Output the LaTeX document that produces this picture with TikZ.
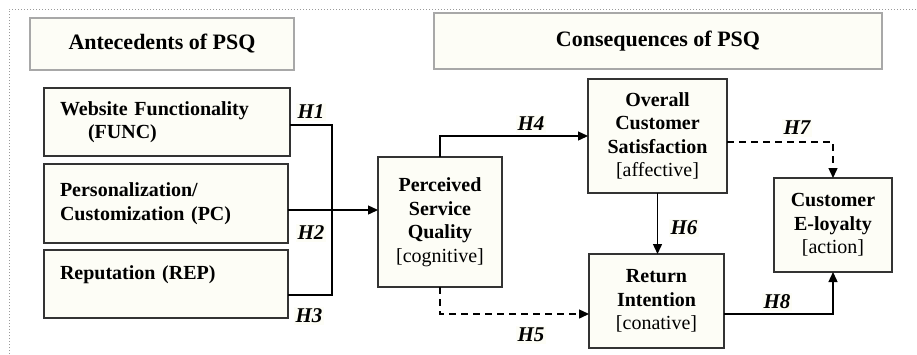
\documentclass[tikz,border=0pt]{standalone}
\usepackage{fontspec}
\setmainfont{Liberation Serif}
\usetikzlibrary{arrows.meta}
\definecolor{boxfill}{HTML}{FDFDF6}
\definecolor{boxline}{HTML}{333333}
\definecolor{headline}{HTML}{A8A8A8}
\definecolor{framec}{HTML}{9A9A9A}
\begin{document}
\begin{tikzpicture}[x=1pt,y=-1pt,
  every node/.style={inner sep=0pt, outer sep=0pt},
  header/.style={draw=headline, line width=1.5pt, fill=boxfill, font=\fontsize{22}{26}\selectfont\bfseries},
  concept/.style={draw=boxline, line width=1.5pt, fill=boxfill, font=\fontsize{20}{23.5}\selectfont\bfseries, align=center},
  antec/.style={concept, align=left, inner xsep=16pt},
  hlabel/.style={font=\fontsize{21}{24}\selectfont\bfseries\itshape, fill=boxfill, inner sep=2pt},
  link/.style={line width=1.4pt, draw=black},
  arr/.style={link, -{Triangle[length=10pt,width=9pt]}},
  darr/.style={arr, dash pattern=on 7pt off 5pt},
]
\useasboundingbox (0,0) rectangle (917,354);
\draw[framec, dotted, line width=1pt] (9,354) -- (9,9) -- (917,9);

\node[header, minimum width=264pt, minimum height=52pt] (ante) at (162,44) {Antecedents of PSQ};
\node[header, minimum width=448pt, minimum height=56pt] (cons) at (658,41) {Consequences of PSQ};

\node[antec, text width=214pt, minimum height=68pt] (func) at (167,122) {Website Functionality\\\hspace*{28pt}(FUNC)};
\node[antec, text width=212pt, minimum height=79pt] (pc) at (166,203.5) {Personalization/\\Customization (PC)};
\node[antec, text width=212pt, minimum height=68pt] (rep) at (166,284) {Reputation (REP)\\\mbox{}};

\node[concept, minimum width=124pt, minimum height=130pt] (psq) at (440,222) {Perceived\\Service\\Quality\\{\mdseries[cognitive]}};
\node[concept, minimum width=139pt, minimum height=114pt] (sat) at (657.5,136) {Overall\\Customer\\Satisfaction\\{\mdseries[affective]}};
\node[concept, minimum width=118pt, minimum height=94pt] (loy) at (833,225) {Customer\\E-loyalty\\{\mdseries[action]}};
\node[concept, minimum width=135pt, minimum height=94pt] (ret) at (656.5,301) {Return\\Intention\\{\mdseries[conative]}};

\node[hlabel] (l1) at (311,112) {H1};
\node[hlabel] (l2) at (311,233) {H2};
\node[hlabel] (l3) at (309,316) {H3};
\node[hlabel] (l4) at (531,124) {H4};
\node[hlabel] (l5) at (531,335) {H5};
\node[hlabel] (l6) at (684,228) {H6};
\node[hlabel] (l7) at (797,128) {H7};
\node[hlabel] (l8) at (777,302) {H8};

\coordinate (bt) at (332,125);
\coordinate (bb) at (332,295);
\coordinate (h2y) at (0,210);
\coordinate (h7y) at (0,142);
\coordinate (low) at (0,314);

\draw[link] (func.east |- bt) -- (bt) -- (bb) -- (rep.east |- bb);
\draw[arr] (pc.east |- h2y) -- (psq.west |- h2y);
\draw[arr] (psq.north) |- (sat.west);
\draw[darr] (sat.east |- h7y) -| (loy.north);
\draw[arr] (sat.south) -- (sat.south |- ret.north);
\draw[darr] (psq.south) |- (ret.west |- low);
\draw[arr] (ret.east |- low) -| (loy.south);
\end{tikzpicture}
\end{document}
